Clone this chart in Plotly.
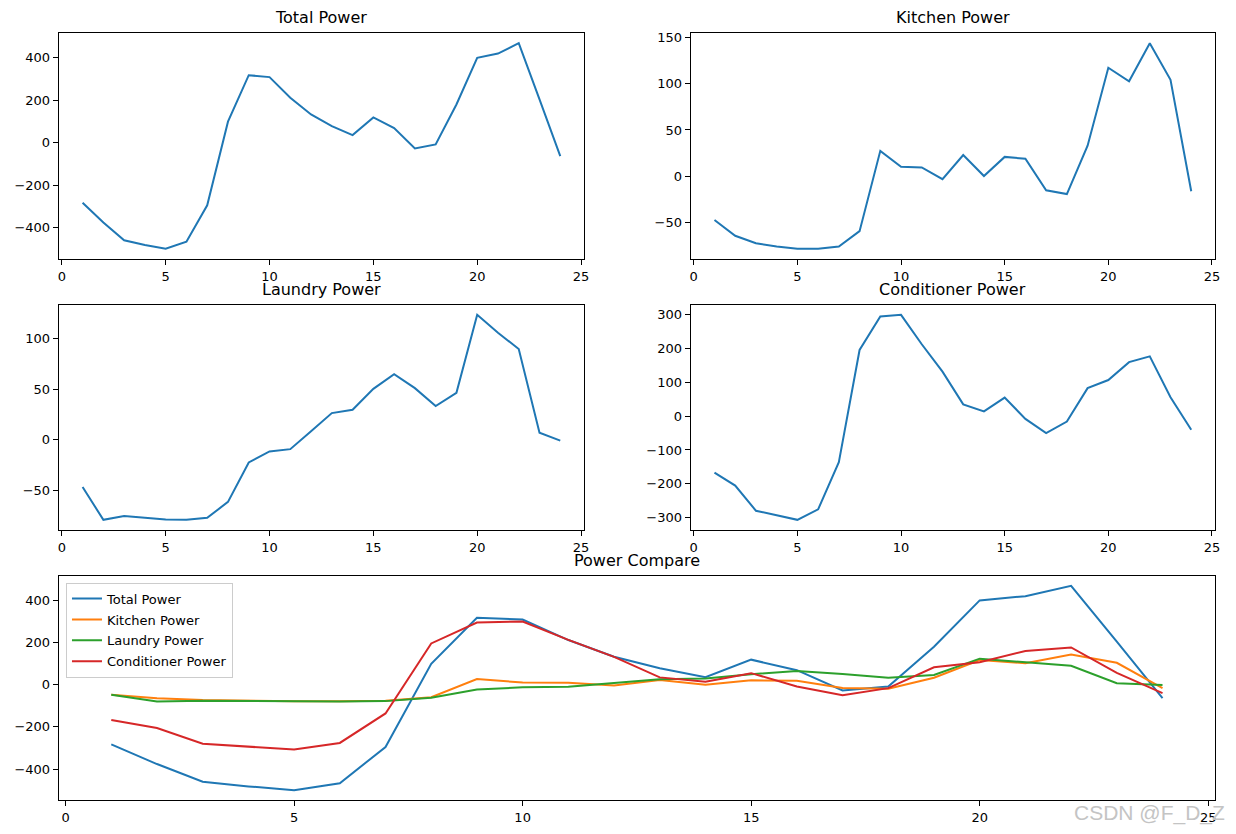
import plotly.graph_objects as go

hours = list(range(1, 25))

total_power = [-283, -376, -460, -482, -500, -467, -295, 99, 318, 309, 212, 133,
               78, 36, 119, 69, -27, -8, 180, 400, 420, 469, 204, -63]
kitchen_power = [-47, -64, -72, -75.5, -78, -78, -75.5, -59, 27.5, 10.4, 9.7, -3,
                 23, 0.4, 21, 19, -15, -19, 33, 117, 102.5, 143.5, 104, -16]
laundry_power = [-47, -79.6, -75.7, -77.6, -79.3, -79.6, -77.6, -61.8, -22.7, -11.8, -9.5, 8.2,
                 26.3, 29.6, 50.3, 64.8, 51, 33.2, 46.4, 123.7, 106, 89.8, 6.9, -1]
conditioner_power = [-167, -205.5, -280, -294, -307, -276, -136, 196, 295, 300, 213, 132,
                     35, 14, 55, -8, -50, -16, 83, 107, 160, 177, 56, -40]

series_names = ["Total Power", "Kitchen Power", "Laundry Power", "Conditioner Power"]
series_values = [total_power, kitchen_power, laundry_power, conditioner_power]
colors = ["#1f77b4", "#ff7f0e", "#2ca02c", "#d62728"]
y_dticks = [200, 50, 50, 100]


def yrange(vals):
    lo, hi = min(vals), max(vals)
    pad = (hi - lo) * 0.05
    return [lo - pad, hi + pad]


W, H = 1236, 834
colL = [58 / W, 586 / W]
colR = [693 / W, 1220 / W]
colAll = [58 / W, 1220 / W]
row1 = [1 - 257 / H, 1 - 30 / H]
row2 = [1 - 529 / H, 1 - 302.7 / H]
row3 = [1 - 800.3 / H, 1 - 574.7 / H]

panels = [(colL, row1), (colR, row1), (colL, row2), (colR, row2)]

font_family = "DejaVu Sans, Arial, sans-serif"
fig = go.Figure()

axis_common = dict(
    showline=True, linecolor="black", linewidth=1, mirror=True,
    ticks="outside", ticklen=5, tickwidth=1, tickcolor="black",
    showgrid=False, zeroline=False,
    tickfont=dict(size=13, color="black", family=font_family),
)

annotations = []
for i, (name, vals) in enumerate(zip(series_names, series_values)):
    n = i + 1
    xa = "x" if n == 1 else f"x{n}"
    ya = "y" if n == 1 else f"y{n}"
    fig.add_trace(go.Scatter(x=hours, y=vals, mode="lines", name=name,
                             line=dict(color=colors[0], width=2),
                             xaxis=xa, yaxis=ya, showlegend=False))
    xd, yd = panels[i]
    fig.layout[f"xaxis{'' if n == 1 else n}"] = dict(
        domain=xd, anchor=ya, range=[-0.15, 25.15], tick0=0, dtick=5, **axis_common)
    fig.layout[f"yaxis{'' if n == 1 else n}"] = dict(
        domain=yd, anchor=xa, range=yrange(vals), tick0=0, dtick=y_dticks[i], **axis_common)
    annotations.append(dict(text=name, x=(xd[0] + xd[1]) / 2, y=yd[1], xref="paper", yref="paper",
                            xanchor="center", yanchor="bottom", yshift=4, showarrow=False,
                            font=dict(size=16, color="black", family=font_family)))

# Compare panel
all_vals = [v for s in series_values for v in s]
for i, (name, vals) in enumerate(zip(series_names, series_values)):
    fig.add_trace(go.Scatter(x=hours, y=vals, mode="lines", name=name,
                             line=dict(color=colors[i], width=2),
                             xaxis="x5", yaxis="y5", legendgroup=f"g{i}", showlegend=True))
fig.layout["xaxis5"] = dict(domain=colAll, anchor="y5", range=[-0.15, 25.15], tick0=0, dtick=5, **axis_common)
fig.layout["yaxis5"] = dict(domain=row3, anchor="x5", range=yrange(all_vals), tick0=0, dtick=200, **axis_common)
annotations.append(dict(text="Power Compare", x=(colAll[0] + colAll[1]) / 2, y=row3[1],
                        xref="paper", yref="paper", xanchor="center", yanchor="bottom", yshift=4,
                        showarrow=False, font=dict(size=16, color="black", family=font_family)))

annotations.append(dict(text="CSDN @F_D_Z", x=1232 / W, y=1 - 827 / H, xref="paper", yref="paper",
                        xanchor="right", yanchor="bottom", showarrow=False,
                        font=dict(size=21, color="#c4c4c4", family="Liberation Sans, Arial, sans-serif")))

fig.update_layout(
    width=W, height=H,
    margin=dict(l=0, r=0, t=0, b=0),
    paper_bgcolor="white", plot_bgcolor="white",
    annotations=annotations,
    font=dict(family=font_family, color="black"),
    legend=dict(x=65.3 / W, y=1 - 581.7 / H, xanchor="left", yanchor="top",
                bgcolor="rgba(255,255,255,0.8)", bordercolor="#cccccc", borderwidth=1,
                font=dict(size=13, color="black", family=font_family),
                tracegroupgap=1, itemwidth=30),
)

fig.write_html("out.html",
               config={"displayModeBar": False},
               post_script="document.body.style.margin='0';document.body.style.overflow='hidden';")
